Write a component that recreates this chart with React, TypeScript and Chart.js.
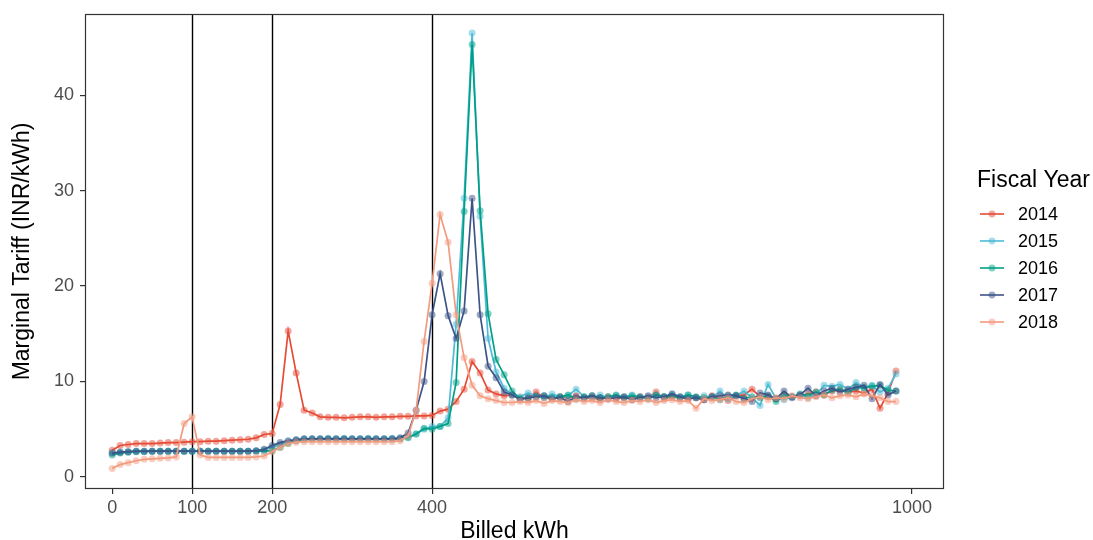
import React, { useEffect, useRef } from "react";
import { Chart, registerables } from "chart.js";

Chart.register(...registerables);

const kwh = [
  0, 10, 20, 30, 40, 50, 60, 70, 80, 90, 100,
  110, 120, 130, 140, 150, 160, 170, 180, 190, 200,
  210, 220, 230, 240, 250, 260, 270, 280, 290, 300,
  310, 320, 330, 340, 350, 360, 370, 380, 390, 400,
  410, 420, 430, 440, 450, 460, 470, 480, 490, 500,
  510, 520, 530, 540, 550, 560, 570, 580, 590, 600,
  610, 620, 630, 640, 650, 660, 670, 680, 690, 700,
  710, 720, 730, 740, 750, 760, 770, 780, 790, 800,
  810, 820, 830, 840, 850, 860, 870, 880, 890, 900,
  910, 920, 930, 940, 950, 960, 970, 980,
];

const years = ["2014", "2015", "2016", "2017", "2018"];

const tariff2014 = [
  2.8, 3.3, 3.4, 3.5, 3.5, 3.5, 3.55, 3.6, 3.6, 3.65, 3.7,
  3.7, 3.75, 3.75, 3.8, 3.85, 3.9, 3.95, 4.1, 4.45, 4.55,
  7.6, 15.3, 10.9, 7.0, 6.7, 6.3, 6.25, 6.25, 6.2, 6.25,
  6.3, 6.3, 6.25, 6.3, 6.3, 6.35, 6.35, 6.4, 6.4, 6.45,
  6.9, 7.1, 7.9, 9.2, 12.1, 10.9, 9.1, 8.7, 8.5, 8.6,
  8.3, 8.2, 8.9, 8.3, 8.2, 8.4, 8.3, 8.5, 8.2, 8.3,
  8.1, 8.4, 8.2, 8.3, 8.2, 8.4, 8.3, 8.9, 8.2, 8.4,
  8.3, 8.2, 8.3, 8.1, 8.5, 8.3, 8.0, 8.5, 8.6, 9.2,
  8.4, 8.4, 8.2, 8.5, 8.4, 8.5, 8.7, 8.9, 8.6, 9.0,
  9.1, 8.9, 9.0, 8.8, 9.2, 7.2, 8.8, 11.1,
];

const tariff2015 = [
  2.5, 2.6, 2.65, 2.7, 2.7, 2.7, 2.7, 2.7, 2.7, 2.7, 2.7,
  2.7, 2.7, 2.7, 2.7, 2.7, 2.7, 2.7, 2.75, 2.85, 3.1,
  3.4, 3.7, 3.9, 4.0, 4.0, 4.0, 4.05, 4.0, 4.05, 4.0,
  4.0, 4.05, 4.0, 4.0, 4.05, 4.0, 4.2, 4.5, 5.0, 5.3,
  5.3, 6.2, 16.0, 29.2, 46.5, 27.3, 14.5, 11.0, 9.3, 8.6,
  8.4, 8.8, 8.5, 8.3, 8.7, 8.4, 8.5, 9.2, 8.4, 8.3,
  8.6, 8.3, 8.5, 8.4, 8.6, 8.3, 8.4, 8.6, 8.4, 8.7,
  8.4, 8.6, 8.3, 8.5, 8.3, 9.0, 8.2, 8.5, 9.0, 8.3,
  7.5, 9.7, 8.2, 8.1, 8.4, 8.6, 8.3, 8.6, 9.6, 9.5,
  9.7, 9.2, 9.9, 9.4, 9.6, 8.9, 9.3, 10.8,
];

const tariff2016 = [
  2.3, 2.5, 2.6, 2.65, 2.65, 2.7, 2.7, 2.7, 2.7, 2.7, 2.7,
  2.7, 2.7, 2.7, 2.7, 2.7, 2.7, 2.7, 2.7, 2.7, 2.75,
  3.1, 3.5, 3.8, 3.9, 3.95, 3.95, 3.95, 3.95, 3.95, 3.95,
  3.95, 3.95, 3.95, 3.95, 3.95, 4.0, 4.1, 4.5, 5.1, 5.0,
  5.3, 5.6, 9.9, 27.8, 45.3, 27.9, 17.1, 12.3, 10.7, 9.0,
  8.2, 8.3, 8.4, 8.5, 8.3, 8.4, 8.6, 8.2, 8.4, 8.5,
  8.3, 8.4, 8.6, 8.3, 8.5, 8.4, 8.2, 8.6, 8.4, 8.5,
  8.3, 8.6, 8.4, 8.3, 8.4, 8.1, 8.5, 8.6, 8.2, 8.4,
  8.3, 8.5, 7.9, 8.6, 8.4, 8.7, 8.5, 8.9, 8.6, 9.1,
  9.2, 8.8, 9.4, 9.3, 9.5, 9.6, 9.1, 9.0,
];

const tariff2017 = [
  2.5, 2.6, 2.65, 2.7, 2.7, 2.7, 2.7, 2.7, 2.7, 2.7, 2.7,
  2.7, 2.7, 2.7, 2.7, 2.7, 2.7, 2.7, 2.75, 2.9, 3.3,
  3.6, 3.8, 3.9, 4.0, 4.0, 4.0, 4.0, 4.0, 4.0, 4.0,
  4.0, 4.0, 4.0, 4.0, 4.0, 4.1, 4.6, 7.0, 10.0, 17.0,
  21.3, 16.9, 14.5, 17.4, 29.2, 17.0, 11.6, 10.4, 8.9, 8.6,
  8.1, 8.3, 8.4, 8.5, 8.2, 8.3, 7.9, 8.4, 8.3, 8.5,
  8.3, 8.2, 8.3, 8.4, 8.1, 8.3, 8.5, 8.3, 8.4, 8.7,
  8.4, 8.2, 8.3, 8.1, 8.4, 8.5, 8.6, 8.5, 8.2, 7.9,
  8.8, 8.6, 8.2, 9.0, 8.3, 8.6, 9.3, 8.5, 9.0, 9.3,
  8.9, 9.2, 9.4, 9.6, 8.2, 9.7, 8.6, 9.0,
];

const tariff2018 = [
  0.9, 1.3, 1.5, 1.7, 1.85, 1.9, 1.95, 2.0, 2.1, 5.6, 6.3,
  2.3, 2.05, 2.05, 2.05, 2.05, 2.05, 2.05, 2.1, 2.2, 2.65,
  3.1, 3.5, 3.65, 3.7, 3.7, 3.7, 3.7, 3.7, 3.7, 3.7,
  3.7, 3.7, 3.7, 3.7, 3.7, 3.8, 4.3, 7.0, 14.2, 20.3,
  27.5, 24.6, 17.0, 12.5, 9.6, 8.5, 8.2, 8.0, 7.8, 7.8,
  7.9, 7.8, 8.0, 7.7, 8.0, 7.9, 7.8, 8.1, 7.9, 8.0,
  7.8, 8.1, 7.9, 7.8, 8.0, 7.9, 8.1, 7.8, 8.0, 8.1,
  7.9, 8.0, 7.2, 8.2, 8.0, 8.1, 8.3, 7.9, 7.8, 8.2,
  8.4, 8.1, 8.3, 8.2, 8.5, 8.3, 8.2, 8.4, 8.6, 8.3,
  8.5, 8.6, 8.4, 8.7, 8.5, 8.3, 7.9, 7.9,
];

const seriesValues = [tariff2014, tariff2015, tariff2016, tariff2017, tariff2018];
const lineColors = ["#E64B35", "#4DBBD5", "#00A087", "#3C5488", "#F39B7F"];
const pointColors = [
  "rgba(230,75,53,0.5)",
  "rgba(77,187,213,0.5)",
  "rgba(0,160,135,0.5)",
  "rgba(60,84,136,0.5)",
  "rgba(243,155,127,0.5)",
];

const xTicks = [0, 100, 200, 400, 1000];
const yTicks = [0, 10, 20, 30, 40];
const blockEdges = [100, 200, 400];

const FONT = "'Liberation Sans', Arial, Helvetica, sans-serif";

export default function App() {
  const ref = useRef<HTMLCanvasElement | null>(null);

  useEffect(() => {
    const canvas = ref.current;
    if (!canvas) return;

    const frame = {
      id: "frame",
      beforeDatasetsDraw(chart: any) {
        const { ctx, chartArea, scales } = chart;
        ctx.save();
        ctx.strokeStyle = "#000000";
        ctx.lineWidth = 1.4;
        blockEdges.forEach((v) => {
          const px = Math.round(scales.x.getPixelForValue(v)) + 0.5;
          ctx.beginPath();
          ctx.moveTo(px, chartArea.top);
          ctx.lineTo(px, chartArea.bottom);
          ctx.stroke();
        });
        ctx.restore();
      },
      afterDatasetsDraw(chart: any) {
        const { ctx, chartArea } = chart;
        ctx.save();
        ctx.strokeStyle = "#333333";
        ctx.lineWidth = 1.2;
        ctx.strokeRect(
          chartArea.left + 0.5,
          chartArea.top + 0.5,
          chartArea.right - chartArea.left - 1,
          chartArea.bottom - chartArea.top - 1
        );
        ctx.restore();
      },
      afterDraw(chart: any) {
        const { ctx } = chart;
        ctx.save();
        ctx.fillStyle = "#000000";
        ctx.textBaseline = "middle";
        ctx.textAlign = "left";
        ctx.font = `23px ${FONT}`;
        ctx.fillText("Fiscal Year", 977, 181);
        ctx.font = `18px ${FONT}`;
        years.forEach((yr, i) => {
          const cy = 214 + i * 27;
          ctx.strokeStyle = lineColors[i];
          ctx.lineWidth = 1.6;
          ctx.beginPath();
          ctx.moveTo(980, cy);
          ctx.lineTo(1004, cy);
          ctx.stroke();
          ctx.fillStyle = pointColors[i];
          ctx.beginPath();
          ctx.arc(992, cy, 3.4, 0, Math.PI * 2);
          ctx.fill();
          ctx.fillStyle = "#000000";
          ctx.fillText(yr, 1018, cy + 1);
        });
        ctx.restore();
      },
    };

    const datasets = years.map((yr, i) => ({
      label: yr,
      data: kwh.map((x, j) => ({ x, y: seriesValues[i][j] })),
      borderColor: lineColors[i],
      backgroundColor: pointColors[i],
      pointBackgroundColor: pointColors[i],
      pointBorderWidth: 0,
      pointBorderColor: "rgba(0,0,0,0)",
      pointRadius: 3.5,
      borderWidth: 1.7,
      tension: 0,
      order: 4 - i,
    }));

    const chart = new Chart(canvas, {
      type: "line",
      data: { datasets },
      plugins: [frame],
      options: {
        animation: false,
        responsive: false,
        maintainAspectRatio: false,
        devicePixelRatio: 1,
        layout: { padding: { top: 14, right: 149, left: 0, bottom: 0 } },
        plugins: {
          legend: { display: false },
          tooltip: { enabled: false },
        },
        scales: {
          x: {
            type: "linear",
            min: -34,
            max: 1040,
            afterBuildTicks: (s: any) => {
              s.ticks = xTicks.map((v) => ({ value: v }));
            },
            afterFit: (s: any) => {
              s.height = 51;
              s.paddingLeft = 0;
              s.paddingRight = 0;
              s.paddingTop = 0;
              s.paddingBottom = 0;
            },
            ticks: {
              color: "#4D4D4D",
              font: { family: FONT, size: 18 },
              padding: 3,
              maxRotation: 0,
              autoSkip: false,
              callback: (v: any) => String(v),
            },
            grid: {
              display: true,
              drawOnChartArea: false,
              drawTicks: true,
              tickLength: 5,
              color: "#333333",
              lineWidth: 1.2,
            },
            border: { display: false },
            title: {
              display: true,
              text: "Billed kWh",
              color: "#000000",
              font: { family: FONT, size: 23, lineHeight: 0.75 },
              padding: { top: 0, bottom: 0 },
            },
          },
          y: {
            type: "linear",
            min: -1.26,
            max: 48.5,
            afterBuildTicks: (s: any) => {
              s.ticks = yTicks.map((v) => ({ value: v }));
            },
            afterFit: (s: any) => {
              s.width = 85;
              s.paddingLeft = 0;
              s.paddingRight = 0;
              s.paddingTop = 0;
              s.paddingBottom = 0;
            },
            ticks: {
              color: "#4D4D4D",
              font: { family: FONT, size: 18 },
              padding: 6,
              callback: (v: any) => String(v),
            },
            grid: {
              display: true,
              drawOnChartArea: false,
              drawTicks: true,
              tickLength: 5,
              color: "#333333",
              lineWidth: 1.2,
            },
            border: { display: false },
            title: {
              display: true,
              text: "Marginal Tariff (INR/kWh)",
              color: "#000000",
              font: { family: FONT, size: 23 },
              padding: { top: 9, bottom: 0 },
            },
          },
        },
      },
    } as any);

    return () => {
      chart.destroy();
    };
  }, []);

  return (
    <div style={{ position: "absolute", left: 0, top: 0, width: 1093, height: 540, background: "#ffffff" }}>
      <canvas ref={ref} width={1093} height={540} style={{ width: 1093, height: 540, display: "block" }} />
    </div>
  );
}
